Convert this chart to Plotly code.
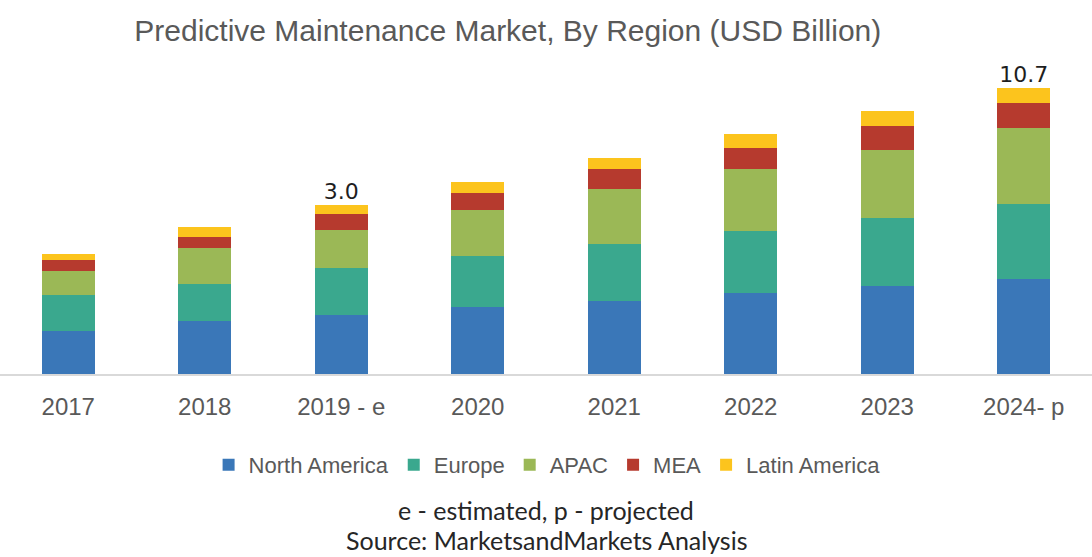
import plotly.graph_objects as go

# Years on the category axis
years = ["2017", "2018", "2019 - e", "2020", "2021", "2022", "2023", "2024- p"]

# Regional market size, USD billion
north_america = [0.76, 0.84, 0.90, 0.98, 1.05, 1.15, 1.23, 1.33]
europe = [0.36, 0.43, 0.60, 0.73, 0.90, 1.09, 1.37, 1.68]
apac = [0.34, 0.59, 0.78, 1.13, 1.60, 2.17, 2.82, 3.91]
mea = [0.18, 0.25, 0.44, 0.56, 0.85, 1.12, 1.65, 2.17]
latin_america = [0.11, 0.23, 0.28, 0.43, 0.56, 0.93, 1.26, 1.61]

# Years whose totals are written above the bar
labelled_years = ["2019 - e", "2024- p"]

series = [
    ("North America", north_america, "#3a77b8"),
    ("Europe", europe, "#3aa88e"),
    ("APAC", apac, "#9bb856"),
    ("MEA", mea, "#b63a2e"),
    ("Latin America", latin_america, "#fcc41d"),
]

totals = [round(sum(v), 2) for v in zip(*[s[1] for s in series])]

fig = go.Figure()
for name, values, color in series:
    fig.add_trace(go.Bar(
        x=years, y=values, name=name,
        marker=dict(color=color, line=dict(width=0)),
        hoverinfo="x+y+name",
    ))

fig.add_trace(go.Scatter(
    x=years, y=totals, mode="text",
    text=[f"{t:.1f}" if yr in labelled_years else "" for yr, t in zip(years, totals)],
    textposition="top center",
    textfont=dict(family="DejaVu Sans", size=22, color="#1e1e1e"),
    showlegend=False, hoverinfo="skip", cliponaxis=False,
))

grey = "#595959"
fig.update_layout(
    width=1092, height=557,
    paper_bgcolor="white", plot_bgcolor="white",
    margin=dict(l=0, r=0, t=50, b=183),
    barmode="stack", bargap=0.613,
    title=dict(
        text="Predictive Maintenance Market, By Region (USD Billion)",
        x=0.465, xanchor="center", yref="container", y=0.946, yanchor="middle",
        font=dict(family="Liberation Sans", size=30, color=grey),
    ),
    xaxis=dict(
        showline=True, linecolor="#d9d9d9", linewidth=2,
        ticks="", ticklabelstandoff=10,
        tickfont=dict(family="Liberation Sans", size=24, color=grey),
        showgrid=False, zeroline=False,
    ),
    yaxis=dict(
        type="log", range=[-0.3242, 1.2082],
        showticklabels=False, showgrid=False, zeroline=False, showline=False,
    ),
    legend=dict(
        orientation="h", x=0.501, xanchor="center", y=-0.281, yanchor="middle",
        font=dict(family="Liberation Sans", size=22, color=grey),
        traceorder="normal",
    ),
    annotations=[
        dict(text="e - estimated, p - projected", x=0.5, y=-0.42, xref="paper", yref="paper",
             xanchor="center", yanchor="middle", showarrow=False,
             font=dict(family="Lato", size=25, color="#262626")),
        dict(text="Source: MarketsandMarkets Analysis", x=0.5, y=-0.512, xref="paper", yref="paper",
             xanchor="center", yanchor="middle", showarrow=False,
             font=dict(family="Lato", size=25, color="#262626")),
    ],
)

fig.write_html("out.html")
